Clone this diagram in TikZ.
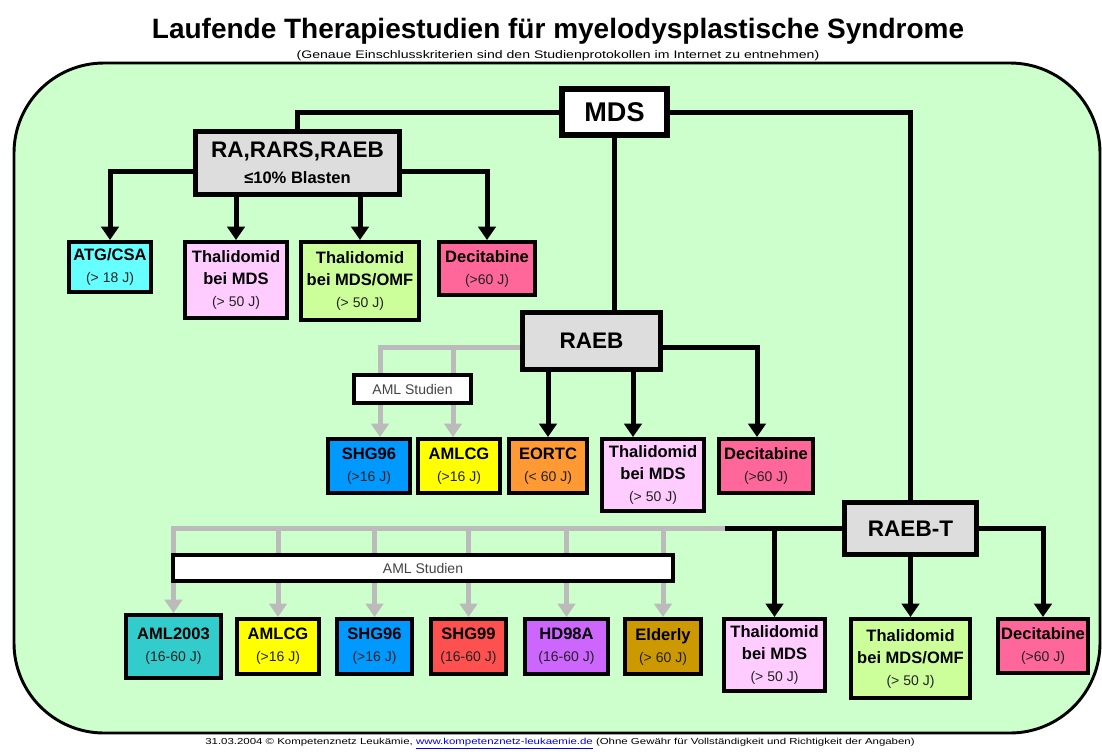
\documentclass[tikz,border=0pt]{standalone}
\usepackage{fontspec}
\usepackage{graphicx}
\setmainfont{Liberation Sans}
\usetikzlibrary{arrows.meta,calc}
\pgfdeclarelayer{bg}
\pgfdeclarelayer{cn}
\pgfsetlayers{bg,cn,main}
\definecolor{bggreen}{HTML}{CCFFCC}
\definecolor{boxgray}{HTML}{DDDDDD}
\definecolor{linegray}{HTML}{BBBBBB}
\definecolor{ccyan}{HTML}{66FFFF}
\definecolor{cpink}{HTML}{FFCCFF}
\definecolor{clime}{HTML}{CCFF99}
\definecolor{crose}{HTML}{FF6699}
\definecolor{cblue}{HTML}{0099FF}
\definecolor{cyellow}{HTML}{FFFF00}
\definecolor{corange}{HTML}{FF9933}
\definecolor{cteal}{HTML}{33CCCC}
\definecolor{cred}{HTML}{FF5050}
\definecolor{cviolet}{HTML}{CC66FF}
\definecolor{cgold}{HTML}{CC9900}
\definecolor{subtext}{HTML}{222222}
\definecolor{amltext}{HTML}{444444}
\definecolor{linkblue}{HTML}{0000EE}
\newcommand\leafsub[1]{{\mdseries\color{subtext}\fontsize{10.5}{16.5}\selectfont #1}}
\tikzset{
  leaf/.style={draw=black, line width=3pt, align=center, inner sep=0pt,
    font=\bfseries\fontsize{12.4}{16.5}\selectfont},
  grp/.style={draw=black, line width=3.75pt, fill=boxgray, align=center, inner sep=0pt,
    font=\bfseries\fontsize{16.9}{19.5}\selectfont},
  amlbox/.style={draw=black, line width=3pt, fill=white, inner sep=0pt,
    font=\fontsize{10.5}{12}\selectfont, text=amltext},
  conn/.style={line width=3.75pt, draw=black},
  arr/.style={conn, -{Triangle[width=13pt,length=10pt]}},
  gconn/.style={line width=3.75pt, draw=linegray},
  garr/.style={gconn, -{Triangle[width=13pt,length=10pt]}},
}
\begin{document}
\begin{tikzpicture}[x=0.75pt,y=-0.75pt]
\useasboundingbox (0,0) rectangle (1102,751);

% title texts
\node[font=\bfseries\fontsize{21}{24}\selectfont] (title) at (558,31)
  {Laufende Therapiestudien für myelodysplastische Syndrome};
\node[font=\fontsize{8.2}{9}\selectfont, inner sep=0pt] (subtitle) at (558,56)
  {\resizebox{392pt}{\height}{(Genaue Einschlusskriterien sind den Studienprotokollen im Internet zu entnehmen)}};
\node[font=\fontsize{6.5}{7}\selectfont, inner sep=0pt] (footer) at (560,744)
  {\resizebox{532pt}{\height}{31.03.2004 © Kompetenznetz Leukämie, {\color{linkblue}\underline{www.kompetenznetz-leukaemie.de}} (Ohne Gewähr für Vollständigkeit und Richtigkeit der Angaben)}};

% main boxes
\node[draw=black, line width=4.5pt, fill=white, inner sep=0pt, minimum width=78.75pt, minimum height=34.5pt,
  font=\bfseries\fontsize{20.3}{22}\selectfont] (mds) at (614.5,112) {MDS};
\node[grp, minimum width=153pt, minimum height=47.25pt] (ra) at (297.5,163)
  {RA,RARS,RAEB\\{\fontsize{12.4}{19.5}\selectfont ≤10\% Blasten}};
\node[grp, minimum width=103.5pt, minimum height=42.75pt] (raeb) at (591.5,341) {RAEB};
\node[grp, minimum width=99pt, minimum height=39pt] (raebt) at (910.5,528.5) {RAEB-T};

% RA children
\node[leaf, fill=ccyan, minimum width=61.5pt, minimum height=37.5pt] (atg) at (110,267)
  {ATG/CSA\\\leafsub{(> 18 J)}};
\node[leaf, fill=cpink, minimum width=76.5pt, minimum height=57pt] (thal1) at (236,280)
  {Thalidomid\\bei MDS\\\leafsub{(> 50 J)}};
\node[leaf, fill=clime, minimum width=88.5pt, minimum height=58.5pt] (thal2) at (360,281)
  {Thalidomid\\bei MDS/OMF\\\leafsub{(> 50 J)}};
\node[leaf, fill=crose, minimum width=72pt, minimum height=39.75pt] (dec1) at (487,268.5)
  {Decitabine\\\leafsub{(>60 J)}};

% RAEB children
\node[amlbox, minimum width=87.75pt, minimum height=21pt] (amls1) at (412.5,389) {AML Studien};
\node[leaf, fill=cblue, minimum width=61.5pt, minimum height=40.5pt] (shg1) at (369,466)
  {SHG96\\\leafsub{(>16 J)}};
\node[leaf, fill=cyellow, minimum width=61.5pt, minimum height=40.5pt] (amlcg1) at (459,466)
  {AMLCG\\\leafsub{(>16 J)}};
\node[leaf, fill=corange, minimum width=58.5pt, minimum height=40.5pt] (eortc) at (548,466)
  {EORTC\\\leafsub{(< 60 J)}};
\node[leaf, fill=cpink, minimum width=76.5pt, minimum height=54pt] (thal3) at (653,475)
  {Thalidomid\\bei MDS\\\leafsub{(> 50 J)}};
\node[leaf, fill=crose, minimum width=70.5pt, minimum height=40.5pt] (dec2) at (766,466)
  {Decitabine\\\leafsub{(>60 J)}};

% RAEB-T children
\node[amlbox, minimum width=375pt, minimum height=19.5pt] (amls2) at (423,568) {AML Studien};
\node[leaf, fill=cteal, minimum width=71.25pt, minimum height=47.25pt] (aml2003) at (173.5,646.5)
  {AML2003\\\leafsub{(16-60 J)}};
\node[leaf, fill=cyellow, minimum width=61.5pt, minimum height=41.25pt] (amlcg2) at (278,646.5)
  {AMLCG\\\leafsub{(>16 J)}};
\node[leaf, fill=cblue, minimum width=56.25pt, minimum height=41.25pt] (shg2) at (374.5,646.5)
  {SHG96\\\leafsub{(>16 J)}};
\node[leaf, fill=cred, minimum width=56.25pt, minimum height=41.25pt] (shg99) at (468.5,646.5)
  {SHG99\\\leafsub{(16-60 J)}};
\node[leaf, fill=cviolet, minimum width=62.25pt, minimum height=41.25pt] (hd98) at (566.5,646.5)
  {HD98A\\\leafsub{(16-60 J)}};
\node[leaf, fill=cgold, minimum width=57pt, minimum height=41.25pt] (elderly) at (663,646.5)
  {Elderly\\\leafsub{(> 60 J)}};
\node[leaf, fill=cpink, minimum width=75.75pt, minimum height=54pt] (thal4) at (774.5,655)
  {Thalidomid\\bei MDS\\\leafsub{(> 50 J)}};
\node[leaf, fill=clime, minimum width=89.25pt, minimum height=59.25pt] (thal5) at (910.5,658.5)
  {Thalidomid\\bei MDS/OMF\\\leafsub{(> 50 J)}};
\node[leaf, fill=crose, minimum width=67.5pt, minimum height=40.5pt] (dec3) at (1043,646)
  {Decitabine\\\leafsub{(>60 J)}};

% background panel
\begin{pgfonlayer}{bg}
\draw[line width=2.2pt, fill=bggreen, rounded corners=67.5pt] (14,63) rectangle (1100,733);
\end{pgfonlayer}

% connectors
\begin{pgfonlayer}{cn}
\draw[conn] (mds.west) -| (ra.north);
\draw[conn] (mds.east) -| (raebt.north);
\draw[conn] (mds.south) -- (mds.south |- raeb.north);

\draw[arr] ([yshift=-6pt]ra.west) -| (atg.north);
\draw[arr] (ra.south -| thal1.north) -- (thal1.north);
\draw[arr] (ra.south -| thal2.north) -- (thal2.north);
\draw[arr] ([yshift=-6pt]ra.east) -| (dec1.north);

\coordinate (rw) at ([yshift=-5pt]raeb.west);
\coordinate (re) at ([yshift=-5pt]raeb.east);
\coordinate (g1) at ($(shg1.north)+(11,0)$);
\coordinate (g2) at ($(amlcg1.north)+(-6,0)$);
\coordinate (t3) at ($(thal3.north)+(-20,0)$);
\coordinate (d2) at ($(dec2.north)+(-9,0)$);
\draw[garr] (rw) -| (g1);
\draw[garr] (rw -| g2) -- (g2);
\draw[arr] (raeb.south -| eortc.north) -- (eortc.north);
\draw[arr] (raeb.south -| t3) -- (t3);
\draw[arr] (re) -| (d2);

\coordinate (bk) at ($(raebt.west)+(-117,0)$);
\draw[garr] (bk) -| (aml2003.north);
\draw[garr] (bk -| amlcg2.north) -- (amlcg2.north);
\draw[garr] (bk -| shg2.north) -- (shg2.north);
\draw[garr] (bk -| shg99.north) -- (shg99.north);
\draw[garr] (bk -| hd98.north) -- (hd98.north);
\draw[garr] (bk -| elderly.north) -- (elderly.north);
\draw[conn] (raebt.west) -- (bk);
\draw[arr] (raebt.west -| thal4.north) -- (thal4.north);
\draw[arr] (raebt.south) -- (thal5.north);
\draw[arr] (raebt.east) -| (dec3.north);
\end{pgfonlayer}
\end{tikzpicture}
\end{document}
